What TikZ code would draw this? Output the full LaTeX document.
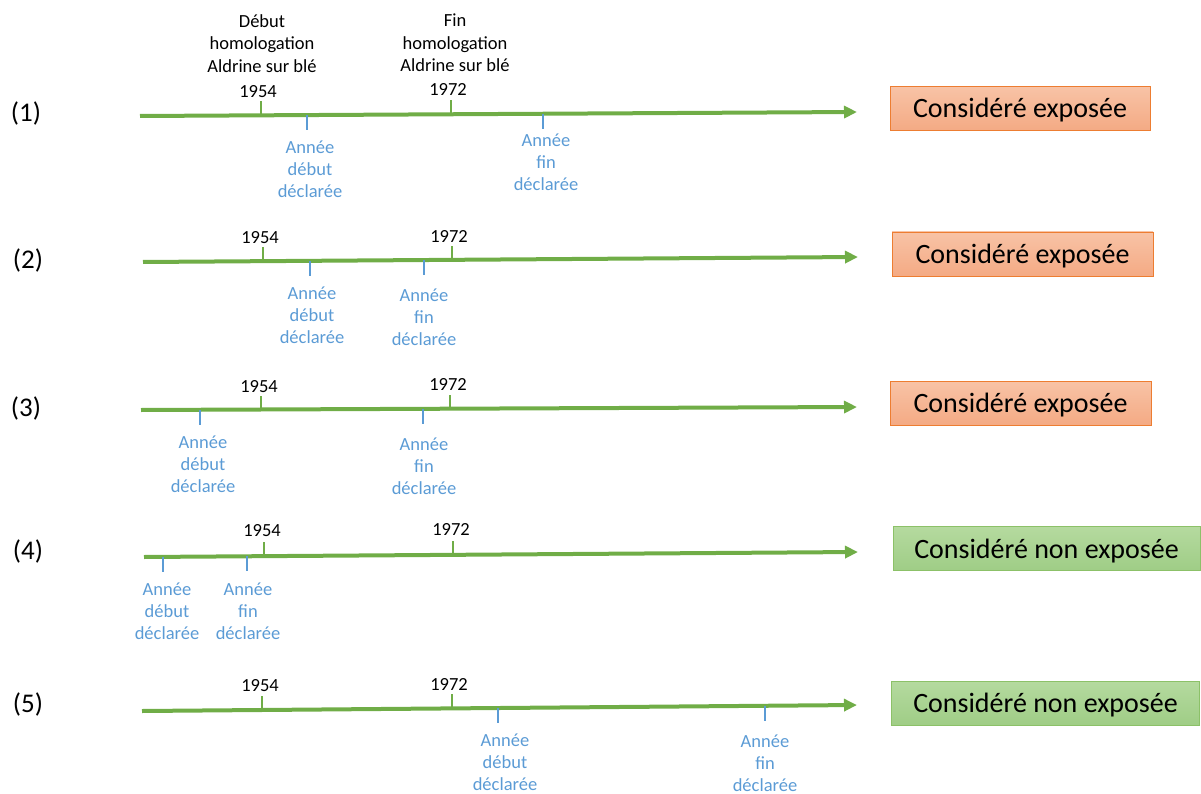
\documentclass[tikz,border=0pt]{standalone}
\usepackage{fontspec}
\setmainfont{Carlito}
\usetikzlibrary{arrows.meta,calc}
\definecolor{axg}{HTML}{70AD47}
\definecolor{bl}{HTML}{5B9BD5}
\definecolor{orb}{HTML}{ED7D31}
\definecolor{ort}{HTML}{F8C3A6}
\definecolor{orm}{HTML}{F4AA84}
\definecolor{grt}{HTML}{B5DA9F}
\definecolor{grm}{HTML}{9FCD86}
\definecolor{grb}{HTML}{8CC168}
\tikzset{
  axis/.style={draw=axg, line width=4pt, -{Triangle[length=13pt,width=12pt]}},
  gtick/.style={draw=axg, line width=2pt},
  btick/.style={draw=bl, line width=2pt},
  yr/.style={font=\fontsize{18.5}{22}\selectfont, text=black, inner sep=0pt},
  hd/.style={font=\fontsize{18.5}{22.5}\selectfont, text=black, align=center, inner sep=0pt},
  bt/.style={font=\fontsize{18.5}{22}\selectfont, text=bl, align=center, inner sep=0pt},
  rn/.style={font=\fontsize{27}{32}\selectfont, inner sep=0pt},
  obox/.style={draw=orb, line width=0.8pt, top color=ort, bottom color=orm, minimum height=44pt, text height=20pt, text depth=1pt, font=\fontsize{28}{32}\selectfont, inner sep=0pt},
  gbox/.style={draw=grb, line width=0.8pt, top color=grt, bottom color=grm, minimum height=44pt, text height=20pt, text depth=1pt, font=\fontsize{28}{32}\selectfont, inner sep=0pt}
}
\newcommand\gtk[2]{\draw[gtick] ($(s#1)!(#2,0 |- s#1)!(e#1)$) -- ++(0,-14);}
\newcommand\btk[2]{\draw[btick] ($(s#1)!(#2,0 |- s#1)!(e#1)$) -- ++(0,15);}
\begin{document}
\begin{tikzpicture}[x=1pt,y=-1pt]
\useasboundingbox (0,0) rectangle (1201,794);
% coordinates of axes
\coordinate (s1) at (140,116); \coordinate (e1) at (857,112);
\coordinate (s2) at (143,262); \coordinate (e2) at (858,257);
\coordinate (s3) at (141,410); \coordinate (e3) at (857,407);
\coordinate (s4) at (144,557); \coordinate (e4) at (858,552);
\coordinate (s5) at (142,711); \coordinate (e5) at (857,705);
% axes
\foreach \i in {1,...,5} {\draw[axis] (s\i) -- (e\i);}
% green ticks
\gtk{1}{261}\gtk{1}{451}
\gtk{2}{263}\gtk{2}{452}
\gtk{3}{261}\gtk{3}{450}
\gtk{4}{264}\gtk{4}{453}
\gtk{5}{262}\gtk{5}{452}
% blue ticks
\btk{1}{307}\btk{1}{543}
\btk{2}{310}\btk{2}{424}
\btk{3}{200}\btk{3}{423}
\btk{4}{163}\btk{4}{247}
\btk{5}{498}\btk{5}{765}
% headers
\node[hd] (hd1) at (262,43.5) {Début\\homologation\\Aldrine sur blé};
\node[hd] (hd2) at (455,43) {Fin\\homologation\\Aldrine sur blé};
% years
\node[yr] (y1a) at (258,92) {1954}; \node[yr] (y1b) at (448,90) {1972};
\node[yr] (y2a) at (260,238) {1954}; \node[yr] (y2b) at (449,236) {1972};
\node[yr] (y3a) at (259,387) {1954}; \node[yr] (y3b) at (448,384) {1972};
\node[yr] (y4a) at (262,531) {1954}; \node[yr] (y4b) at (451,529) {1972};
\node[yr] (y5a) at (260,686) {1954}; \node[yr] (y5b) at (449,684) {1972};
% blue labels
\node[bt] (l1a) at (310,169) {Année\\début\\déclarée};
\node[bt] (l1b) at (546,162) {Année\\fin\\déclarée};
\node[bt] (l2a) at (312,315) {Année\\début\\déclarée};
\node[bt] (l2b) at (424,317) {Année\\fin\\déclarée};
\node[bt] (l3a) at (203,464) {Année\\début\\déclarée};
\node[bt] (l3b) at (424,466) {Année\\fin\\déclarée};
\node[bt] (l4a) at (167,611) {Année\\début\\déclarée};
\node[bt] (l4b) at (248,611) {Année\\fin\\déclarée};
\node[bt] (l5a) at (505,762) {Année\\début\\déclarée};
\node[bt] (l5b) at (765,763) {Année\\fin\\déclarée};
% row numbers
\node[rn] (n1) at (26,113) {(1)};
\node[rn] (n2) at (28,260) {(2)};
\node[rn] (n3) at (26,408) {(3)};
\node[rn] (n4) at (28,551) {(4)};
\node[rn] (n5) at (28,704) {(5)};
% result boxes
\node[obox, minimum width=260pt] (b1) at (1020,108.5) {Considéré exposée};
\node[obox, minimum width=261pt] (b2) at (1022.5,254) {Considéré exposée};
\node[obox, minimum width=261pt] (b3) at (1020.5,403) {Considéré exposée};
\node[gbox, minimum width=307pt] (b4) at (1046.5,548.5) {Considéré non exposée};
\node[gbox, minimum width=308pt] (b5) at (1045.5,703) {Considéré non exposée};
\end{tikzpicture}
\end{document}
